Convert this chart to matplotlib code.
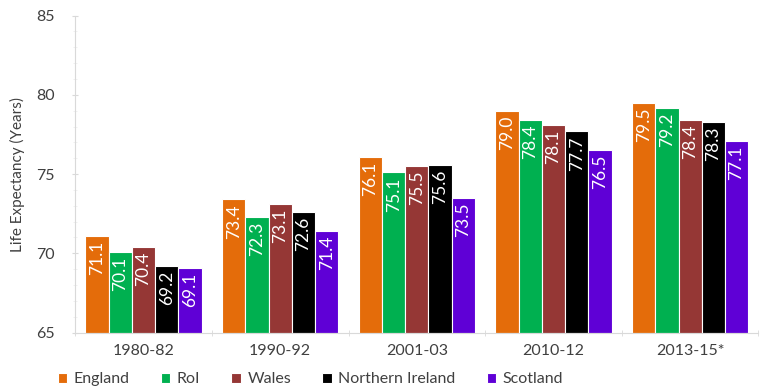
import matplotlib.pyplot as plt
import numpy as np

periods = ["1980-82", "1990-92", "2001-03", "2010-12", "2013-15*"]
countries = ["England", "RoI", "Wales", "Northern Ireland", "Scotland"]
england = [71.1, 73.4, 76.1, 79.0, 79.5]
roi = [70.1, 72.3, 75.1, 78.4, 79.2]
wales = [70.4, 73.1, 75.5, 78.1, 78.4]
northern_ireland = [69.2, 72.6, 75.6, 77.7, 78.3]
scotland = [69.1, 71.4, 73.5, 76.5, 77.1]
colors = ["#E46C0A", "#00B050", "#953735", "#000000", "#5F00D6"]

plt.rcParams["font.family"] = ["Lato", "DejaVu Sans"]

series = [england, roi, wales, northern_ireland, scotland]
x = np.arange(len(periods))
width = 0.17

fig = plt.figure(figsize=(7.6, 3.89), dpi=100)
ax = fig.add_axes([0.099, 0.145, 0.899, 0.815])

for i, (name, values, color) in enumerate(zip(countries, series, colors)):
    pos = x + (i - 2) * width
    ax.bar(pos, [v - 65 for v in values], width=width, bottom=65, color=color,
           edgecolor="white", linewidth=0.8, label=name)
    for px, v in zip(pos, values):
        ax.text(px, v - 0.3, f"{v:.1f}", rotation=90, ha="center", va="top",
                color="white", fontsize=12.5)

ax.set_ylim(65, 85)
ax.set_xlim(-0.5, len(periods) - 0.5)
ax.set_yticks([65, 70, 75, 80, 85])
ax.set_yticks(np.arange(65, 85, 1), minor=True)
ax.set_xticks(x)
ax.set_xticklabels(periods)
ax.set_xticks(np.arange(-0.5, len(periods), 1), minor=True)
ax.tick_params(axis="x", which="major", length=0, pad=8, labelsize=11.5, colors="#404040")
ax.tick_params(axis="x", which="minor", length=5, color="#D9D9D9", direction="inout")
ax.tick_params(axis="y", which="major", length=5, color="#D9D9D9", labelsize=11.5,
               labelcolor="#404040", direction="inout", pad=12)
ax.tick_params(axis="y", which="minor", length=3, color="#EEEEEE", direction="inout")
ax.set_ylabel("Life Expectancy (Years)", fontsize=11, color="#404040", labelpad=8)

for side in ("top", "right"):
    ax.spines[side].set_visible(False)
ax.spines["left"].set_color("#D9D9D9")
ax.spines["bottom"].set_color("#D9D9D9")

fig.legend(loc="lower left", bbox_to_anchor=(0.057, -0.03), ncol=5, frameon=False,
           fontsize=11.5, handlelength=0.6, handleheight=0.6, handletextpad=0.4,
           columnspacing=1.95, labelcolor="#404040")

fig.savefig("out.png", dpi=100)
